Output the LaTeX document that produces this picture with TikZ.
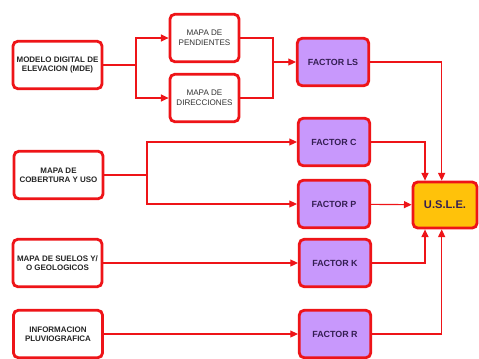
\documentclass[tikz,border=0pt]{standalone}
\usepackage{fontspec}
\setmainfont{Liberation Sans}
\usetikzlibrary{arrows.meta}

\definecolor{boxred}{RGB}{238,20,24}
\definecolor{lila}{RGB}{200,152,252}
\definecolor{gold}{RGB}{255,194,10}
\definecolor{ink}{RGB}{52,30,82}

\tikzset{
  box/.style={draw=boxred, line width=2.4pt, rounded corners=4pt, align=center,
    inner sep=1pt, minimum height=1.42cm},
  src/.style={box, fill=white, minimum width=2.67cm,
    font=\fontsize{6.8}{8}\selectfont\bfseries, text=black!85},
  mapa/.style={box, fill=white, minimum width=2.07cm,
    font=\fontsize{6.9}{8.6}\selectfont, text=black!80},
  factor/.style={box, fill=lila, minimum width=2.14cm,
    font=\fontsize{7.6}{8.6}\selectfont\bfseries, text=ink},
  link/.style={draw=boxred, line width=1pt, -{Triangle[length=6.5pt,width=6pt]}},
  line/.style={draw=boxred, line width=1pt}
}

\begin{document}
\begin{tikzpicture}[x=0.03cm, y=-0.03cm]
    \useasboundingbox (0,0) rectangle (479,358);
    % entradas
    \node[src] (mde) at (57.5,65) {MODELO DIGITAL DE\\ELEVACION (MDE)};
    \node[src] (cob) at (58.5,175) {MAPA DE\\COBERTURA Y USO};
    \node[src] (sue) at (57.5,263) {MAPA DE SUELOS Y/\\O GEOLOGICOS};
    \node[src] (info) at (58,334) {INFORMACION\\PLUVIOGRAFICA};
    % mapas derivados
    \node[mapa] (pend) at (204.5,38) {MAPA DE\\PENDIENTES};
    \node[mapa] (dir) at (204.5,98) {MAPA DE\\DIRECCIONES};
    % factores
    \node[factor] (ls) at (333,62) {FACTOR LS};
    \node[factor] (fc) at (334,142) {FACTOR C};
    \node[factor] (fp) at (334,204) {FACTOR P};
    \node[factor] (fk) at (335,263) {FACTOR K};
    \node[factor] (fr) at (335,334) {FACTOR R};
    \node[box, fill=gold, minimum width=1.92cm, minimum height=1.38cm,
      font=\fontsize{9.5}{10}\selectfont\bfseries, text=ink] (usle) at (445,205) {U.S.L.E.};
    % uniones
    \coordinate (j1) at (136,65);
    \coordinate (j2) at (273,62);
    \coordinate (j3) at (147,175);
    \draw[line] (mde) -- (j1);
    \draw[link] (j1) |- (pend);
    \draw[link] (j1) |- (dir);
    \draw[line] (pend) -| (j2);
    \draw[line] (dir) -| (j2);
    \draw[link] (j2) -- (ls);
    \draw[line] (cob) -- (j3);
    \draw[link] (j3) |- (fc);
    \draw[link] (j3) |- (fp);
    \draw[link] (sue) -- (fk);
    \draw[link] (info) -- (fr);
    \draw[link] (ls.east) -| ([xshift=-0.1cm]usle.north);
    \draw[link] (fc.east) -| ([xshift=-0.6cm]usle.north);
    \draw[link] (fp) -- (usle);
    \draw[link] (fk.east) -| ([xshift=-0.6cm]usle.south);
    \draw[link] (fr.east) -| ([xshift=-0.1cm]usle.south);
\end{tikzpicture}
\end{document}
